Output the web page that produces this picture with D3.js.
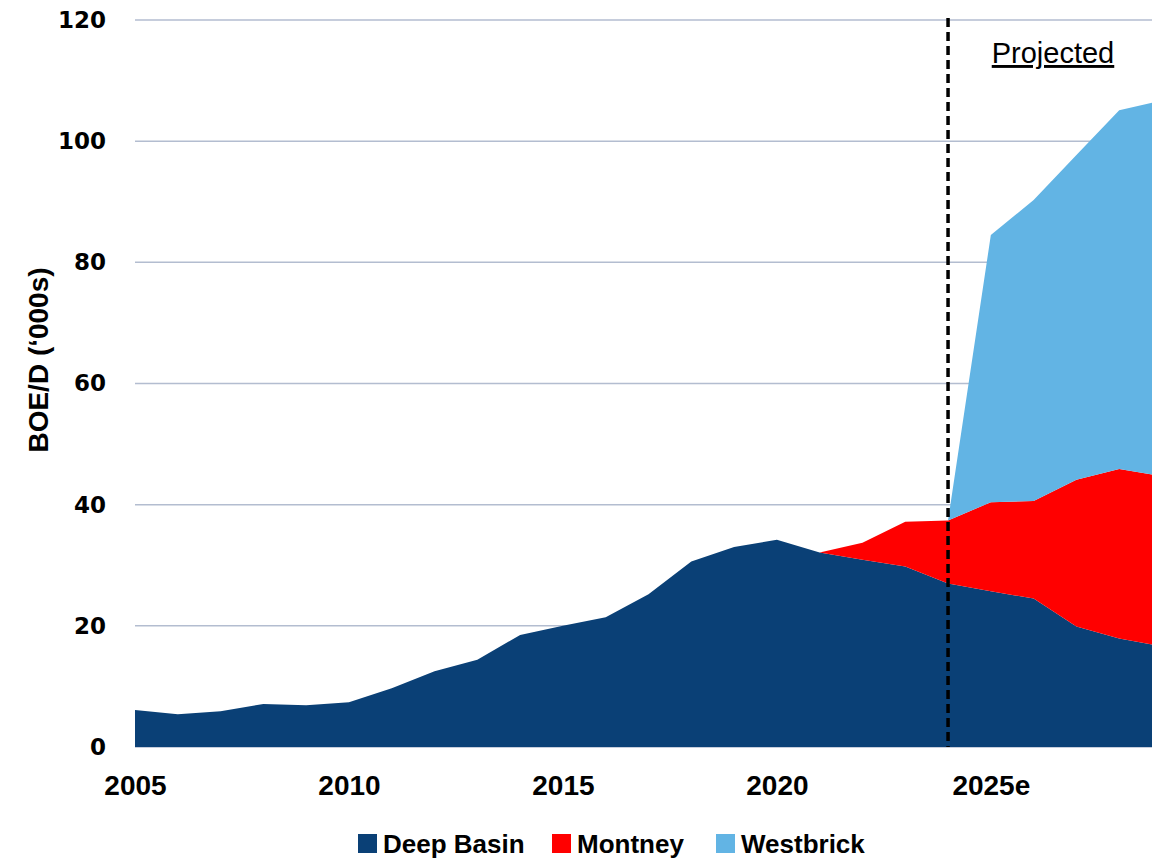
<!DOCTYPE html>
<html>
<head>
<meta charset="utf-8">
<script src="https://cdn.jsdelivr.net/npm/d3@7"></script>
<style>
  body { margin: 0; background: #fff; }
  svg { display: block; }
</style>
</head>
<body>
<div id="chart"></div>
<script>
// data (BOE/D, thousands)
const years = [2005, 2006, 2007, 2008, 2009, 2010, 2011, 2012, 2013, 2014, 2015, 2016,
               2017, 2018, 2019, 2020, 2021, 2022, 2023, 2024, 2025, 2026, 2027, 2028, 2029];
const deepBasin = [6.1, 5.4, 5.9, 7.1, 6.9, 7.4, 9.7, 12.5, 14.4, 18.5, 20.0, 21.4,
                   25.2, 30.6, 33.0, 34.2, 32.1, 30.9, 29.8, 27.0, 25.7, 24.5, 19.9, 17.9, 16.6];
const montney = [0, 0, 0, 0, 0, 0, 0, 0, 0, 0, 0, 0,
                 0, 0, 0, 0, 0, 2.8, 7.4, 10.4, 14.7, 16.1, 24.2, 28.0, 28.1];
const westbrick = [0, 0, 0, 0, 0, 0, 0, 0, 0, 0, 0, 0,
                   0, 0, 0, 0, 0, 0, 0, 0, 44.1, 49.7, 53.6, 59.2, 62.0];
const seriesNames = ["Deep Basin", "Montney", "Westbrick"];
const seriesColors = ["#0A4076", "#FF0000", "#62B4E4"];
const xTicks = [2005, 2010, 2015, 2020, 2025];
const xTickLabels = ["2005", "2010", "2015", "2020", "2025e"];
const yTicks = [0, 20, 40, 60, 80, 100, 120];
const projectedFrom = 2024;

const W = 1152, H = 860;
const sans = "'Liberation Sans', Arial, sans-serif";

const svg = d3.select("#chart").append("svg")
    .attr("width", W)
    .attr("height", H);

const x = d3.scaleLinear().domain([2005, 2029]).range([135, 1162]);
const y = d3.scaleLinear().domain([0, 120]).range([747, 20]);

const table = years.map((yr, i) => ({
    year: yr,
    "Deep Basin": deepBasin[i],
    "Montney": montney[i],
    "Westbrick": westbrick[i]
}));

const stacked = d3.stack().keys(seriesNames)(table);

// gridlines
svg.append("g")
    .selectAll("line")
    .data(yTicks)
    .enter().append("line")
    .attr("x1", 135)
    .attr("x2", W)
    .attr("y1", d => y(d))
    .attr("y2", d => y(d))
    .attr("stroke", "#B3BDD0")
    .attr("stroke-width", 1.5);

const area = d3.area()
    .x(d => x(d.data.year))
    .y0(d => y(d[0]))
    .y1(d => y(d[1]));

svg.append("g")
    .selectAll("path")
    .data(stacked)
    .enter().append("path")
    .attr("d", area)
    .attr("fill", (d, i) => seriesColors[i]);

// y axis labels
svg.append("g")
    .call(d3.axisLeft(y).tickValues(yTicks).tickSize(0).tickPadding(0))
    .attr("transform", "translate(106,0)")
    .call(g => g.select(".domain").remove())
    .selectAll("text")
    .attr("font-family", "'DejaVu Sans', sans-serif")
    .attr("font-weight", "bold")
    .attr("font-size", "23px")
    .attr("fill", "#000");

// x axis labels
svg.append("g")
    .attr("transform", "translate(0,747)")
    .call(d3.axisBottom(x).tickValues(xTicks).tickSize(0).tickPadding(28)
        .tickFormat((d, i) => xTickLabels[i]))
    .call(g => g.select(".domain").remove())
    .selectAll("text")
    .attr("font-family", sans)
    .attr("font-weight", "bold")
    .attr("font-size", "28px")
    .attr("fill", "#000");

// projection divider
svg.append("line")
    .attr("x1", x(projectedFrom))
    .attr("x2", x(projectedFrom))
    .attr("y1", 18)
    .attr("y2", 747)
    .attr("stroke", "#000")
    .attr("stroke-width", 3.5)
    .attr("stroke-dasharray", "9,5");

svg.append("text")
    .attr("x", 1053)
    .attr("y", 63)
    .attr("text-anchor", "middle")
    .attr("font-family", sans)
    .attr("font-size", "29px")
    .attr("text-decoration", "underline")
    .attr("fill", "#000")
    .text("Projected");

// y axis title
svg.append("text")
    .attr("transform", "translate(48,360) rotate(-90)")
    .attr("text-anchor", "middle")
    .attr("font-family", sans)
    .attr("font-weight", "bold")
    .attr("font-size", "28px")
    .attr("fill", "#000")
    .text("BOE/D (‘000s)");

// legend
const legendX = [358, 552, 716];
const legend = svg.append("g")
    .selectAll("g")
    .data(seriesNames)
    .enter().append("g")
    .attr("transform", (d, i) => `translate(${legendX[i]},834)`);

legend.append("rect")
    .attr("width", 19)
    .attr("height", 19)
    .attr("fill", (d, i) => seriesColors[i]);

legend.append("text")
    .attr("x", 25)
    .attr("y", 19)
    .attr("font-family", sans)
    .attr("font-weight", "bold")
    .attr("font-size", "26px")
    .attr("fill", "#000")
    .text(d => d);
</script>
</body>
</html>
